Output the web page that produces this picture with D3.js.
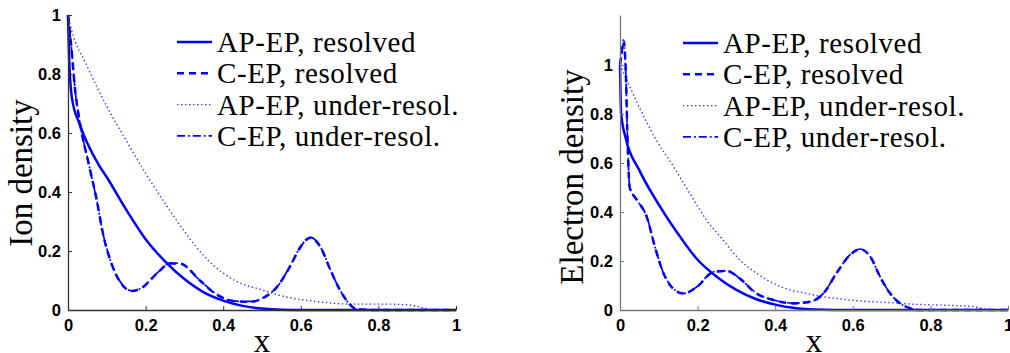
<!DOCTYPE html>
<html>
<head>
<meta charset="utf-8">
<script src="https://cdn.jsdelivr.net/npm/d3@7"></script>
<style>
  body { margin: 0; background: #fff; }
  svg { display: block; }
  .tick text { font-family: "Liberation Sans", Arial, sans-serif; font-weight: bold; font-size: 16.5px; }
  .serif { font-family: "Liberation Serif", "Times New Roman", serif; }
</style>
</head>
<body>
<script>
// legend labels, shared by both panels
const seriesNames = ["AP-EP, resolved", "C-EP, resolved", "AP-EP, under-resol.", "C-EP, under-resol."]
const xTicks = [0, 0.2, 0.4, 0.6, 0.8, 1]
const yTicks = [0, 0.2, 0.4, 0.6, 0.8, 1]

// ---- ion density (left) ----
const ionApResX = [0, 0.003, 0.01, 0.03, 0.05, 0.08, 0.1, 0.15, 0.2, 0.25, 0.3, 0.35, 0.4, 0.45, 0.5, 0.55, 0.6, 0.8, 1]
const ionApRes  = [1.0, 0.85, 0.72, 0.63, 0.565, 0.49, 0.45, 0.34, 0.24, 0.165, 0.105, 0.06, 0.032, 0.014, 0.005, 0.001, 0, 0, 0]

const ionCRes_X = [0, 0.008, 0.018, 0.03, 0.055, 0.074, 0.09, 0.115, 0.14, 0.164, 0.19, 0.23, 0.263, 0.29, 0.34, 0.38, 0.43, 0.47, 0.505, 0.54, 0.572, 0.6, 0.624, 0.65, 0.675, 0.7, 0.727, 0.745, 0.8, 1]
const ionCRes   = [1.0, 0.9, 0.75, 0.64, 0.486, 0.373, 0.26, 0.147, 0.085, 0.064, 0.075, 0.125, 0.158, 0.157, 0.1, 0.055, 0.03, 0.028, 0.042, 0.08, 0.147, 0.215, 0.245, 0.215, 0.14, 0.07, 0.018, 0.002, 0, 0]

const ionApUndX = [0, 0.009, 0.048, 0.1, 0.152, 0.204, 0.256, 0.309, 0.36, 0.43, 0.5, 0.56, 0.646, 0.73, 0.818, 0.878, 0.92, 0.945, 1]
const ionApUnd  = [1.0, 0.95, 0.83, 0.69, 0.57, 0.455, 0.35, 0.25, 0.17, 0.1, 0.068, 0.045, 0.028, 0.02, 0.02, 0.017, 0.006, 0, 0]

const ionCUndX  = [0, 0.008, 0.018, 0.03, 0.055, 0.074, 0.09, 0.115, 0.14, 0.165, 0.19, 0.23, 0.265, 0.29, 0.34, 0.38, 0.43, 0.47, 0.505, 0.54, 0.572, 0.6, 0.625, 0.65, 0.675, 0.7, 0.727, 0.745, 0.8, 1]
const ionCUnd   = [1.0, 0.9, 0.75, 0.64, 0.486, 0.372, 0.26, 0.148, 0.086, 0.065, 0.076, 0.126, 0.16, 0.157, 0.1, 0.056, 0.03, 0.029, 0.043, 0.08, 0.148, 0.216, 0.246, 0.215, 0.14, 0.07, 0.018, 0.002, 0, 0]

// ---- electron density (right) ----
const eApResX = [0, 0.003, 0.015, 0.05, 0.1, 0.15, 0.2, 0.25, 0.3, 0.35, 0.4, 0.45, 0.5, 0.55, 0.6, 0.8, 1]
const eApRes  = [1.0, 0.8, 0.7, 0.57, 0.43, 0.31, 0.205, 0.135, 0.082, 0.045, 0.022, 0.008, 0.002, 0, 0, 0, 0]

const eCResX = [0, 0.004, 0.009, 0.015, 0.019, 0.025, 0.043, 0.069, 0.09, 0.112, 0.137, 0.163, 0.198, 0.241, 0.275, 0.309, 0.352, 0.395, 0.447, 0.49, 0.524, 0.558, 0.593, 0.619, 0.645, 0.67, 0.696, 0.722, 0.748, 0.773, 1]
const eCRes  = [1.0, 1.05, 1.1, 0.97, 0.72, 0.5, 0.45, 0.38, 0.257, 0.15, 0.087, 0.067, 0.094, 0.155, 0.159, 0.128, 0.067, 0.041, 0.027, 0.034, 0.067, 0.15, 0.225, 0.248, 0.218, 0.136, 0.068, 0.027, 0.007, 0, 0]

const eApUndX = [0, 0.017, 0.052, 0.095, 0.138, 0.18, 0.223, 0.266, 0.309, 0.352, 0.395, 0.438, 0.48, 0.524, 0.567, 0.61, 0.696, 0.739, 0.825, 0.91, 0.945, 1]
const eApUnd  = [1.0, 0.94, 0.82, 0.69, 0.585, 0.476, 0.367, 0.285, 0.204, 0.15, 0.109, 0.082, 0.068, 0.054, 0.045, 0.038, 0.03, 0.025, 0.02, 0.014, 0.003, 0]

const eCUndX = [0, 0.004, 0.009, 0.015, 0.019, 0.025, 0.043, 0.069, 0.09, 0.112, 0.137, 0.165, 0.198, 0.241, 0.277, 0.309, 0.352, 0.395, 0.447, 0.49, 0.524, 0.558, 0.593, 0.62, 0.645, 0.67, 0.696, 0.722, 0.748, 0.773, 1]
const eCUnd  = [1.0, 1.04, 1.09, 0.96, 0.72, 0.5, 0.45, 0.38, 0.258, 0.151, 0.088, 0.068, 0.095, 0.156, 0.16, 0.128, 0.068, 0.041, 0.028, 0.034, 0.068, 0.151, 0.226, 0.249, 0.218, 0.137, 0.068, 0.027, 0.007, 0, 0]

const width = 1010, height = 353
const blue = "#0000ff"
// stroke styles in legend order
const styles = [
  {w: 2.5, dash: null, op: 1},
  {w: 2.5, dash: "7,5", op: 1},
  {w: 1.4, dash: "1.4,2.6", op: 0.8},
  {w: 1.7, dash: "8,3,1.8,3", op: 1}
]

const svg = d3.select("body").append("svg")
  .attr("width", width)
  .attr("height", height)

function zip(xs, ys){ return xs.map((x,i)=>[x, ys[i]]) }

function panel(cfg){
  const x = d3.scaleLinear().domain([0,1]).range([cfg.left, cfg.right])
  const y = d3.scaleLinear().domain([0, cfg.ymax]).range([310, 15])
  const g = svg.append("g")

  const line = d3.line().x(d=>x(d[0])).y(d=>y(d[1])).curve(d3.curveMonotoneX)

  // draw under-resol first so resolved sits on top
  const order = [2, 3, 1, 0]
  order.forEach(i=>{
    g.append("path")
      .datum(zip(cfg.series[i][0], cfg.series[i][1]))
      .attr("d", line)
      .attr("fill","none")
      .attr("stroke", blue)
      .attr("stroke-opacity", styles[i].op)
      .attr("stroke-width", styles[i].w)
      .attr("stroke-dasharray", styles[i].dash)
  })

  // axes, matlab style with inward ticks
  const xAxis = d3.axisBottom(x).tickValues(xTicks).tickFormat(d3.format("")).tickSizeInner(-4).tickSizeOuter(0).tickPadding(9)
  const yAxis = d3.axisLeft(y).tickValues(yTicks).tickFormat(d3.format("")).tickSizeInner(-4).tickSizeOuter(0).tickPadding(7)

  const gx = g.append("g").attr("transform","translate(0,310)").call(xAxis)
  const gy = g.append("g").attr("transform","translate("+cfg.left+",0)").call(yAxis)
  ;[gx, gy].forEach(a=>{
    a.attr("font-size", 16.5).attr("font-weight","bold").attr("font-family","'Liberation Sans', Arial, sans-serif")
    a.select(".domain").attr("stroke", cfg.axisColor).attr("stroke-width",1.3)
    a.selectAll(".tick line").attr("stroke", cfg.axisColor)
    a.selectAll("text").attr("fill","#000")
  })

  // legend
  seriesNames.forEach((name,i)=>{
    const yy = cfg.legendY + i*31.3
    g.append("line")
      .attr("x1", cfg.legendX).attr("x2", cfg.legendX+35)
      .attr("y1", yy).attr("y2", yy)
      .attr("stroke", blue)
      .attr("stroke-opacity", styles[i].op)
      .attr("stroke-width", styles[i].w)
      .attr("stroke-dasharray", styles[i].dash)
    g.append("text")
      .attr("class","serif")
      .attr("x", cfg.legendX+40).attr("y", yy+10)
      .attr("font-size", 29)
      .attr("letter-spacing", 0.6)
      .text(name)
  })

  // axis labels
  g.append("text")
    .attr("class","serif")
    .attr("transform","translate("+cfg.ylabX+","+cfg.ylabY+") rotate(-90)")
    .attr("text-anchor","middle")
    .attr("font-size", 33)
    .text(cfg.ylabel)
  g.append("text")
    .attr("class","serif")
    .attr("x", (cfg.left+cfg.right)/2).attr("y", 352)
    .attr("text-anchor","middle")
    .attr("font-size", 33)
    .text("x")
}

panel({
  left: 68, right: 456, ymax: 1, axisColor: "#333",
  legendX: 177, legendY: 42,
  ylabel: "Ion density", ylabX: 32, ylabY: 173,
  series: [[ionApResX, ionApRes], [ionCRes_X, ionCRes], [ionApUndX, ionApUnd], [ionCUndX, ionCUnd]]
})

panel({
  left: 620, right: 1008, ymax: 1.204, axisColor: "#777",
  legendX: 683, legendY: 43,
  ylabel: "Electron density", ylabX: 583, ylabY: 177,
  series: [[eApResX, eApRes], [eCResX, eCRes], [eApUndX, eApUnd], [eCUndX, eCUnd]]
})
</script>
</body>
</html>
